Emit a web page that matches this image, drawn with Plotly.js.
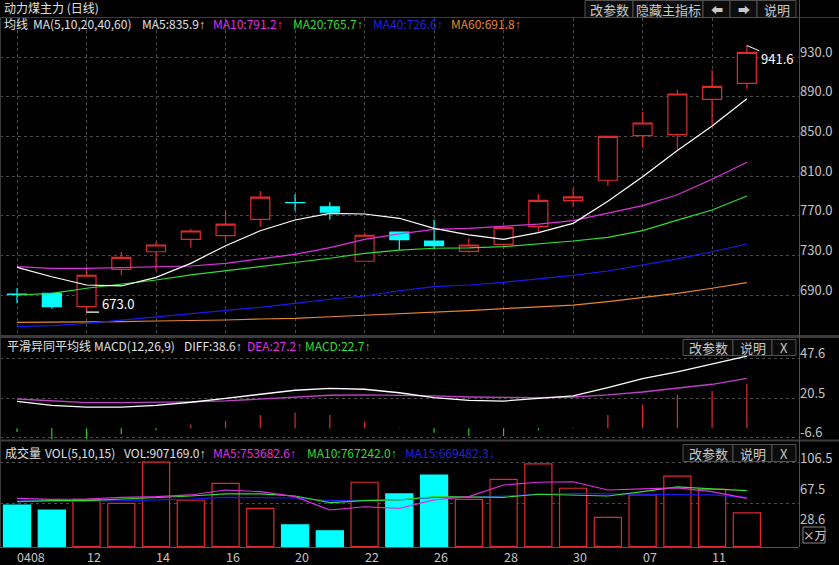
<!DOCTYPE html>
<html><head><meta charset="utf-8">
<script src="https://cdn.plot.ly/plotly-3.0.1.min.js"></script>
<style>html,body{margin:0;padding:0;background:#000;overflow:hidden}#chart{width:839px;height:565px}</style>
</head><body><div id="chart"></div>
<script>
// ---------- data ----------
const dates = ['0408','09','12','13','14','15','16','19','20','21','22','23','26','27','28','29','30','06','07','10','11','12'];
const open  = [691.0,691.9,678.4,716.1,733.8,746.3,750.0,766.5,783.3,778.9,724.2,753.7,744.6,734.2,741.3,759.0,785.2,805.8,850.7,851.7,887.4,903.5];
const high  = [697.0,691.9,718.7,733.5,743.6,756.7,775.5,795.0,791.7,783.6,753.0,753.7,765.8,747.3,760.0,792.0,798.0,850.1,874.6,896.8,916.9,941.6];
const low   = [681.8,676.4,673.0,710.1,714.7,737.9,743.3,759.0,775.1,766.1,724.2,735.5,736.2,732.8,736.5,754.0,779.2,800.3,838.6,837.0,861.5,898.1];
const close = [690.9,678.4,710.1,728.2,740.6,754.7,761.7,788.9,783.2,773.8,750.4,745.9,739.9,740.6,758.4,785.6,789.0,850.1,863.5,892.7,900.5,934.7];
const ma5   = [718.1,708.6,700.3,699.3,708.0,722.1,739.9,755.0,765.8,772.5,771.8,767.5,757.4,750.7,746.3,753.0,762.4,784.6,809.4,835.9,860.5,888.0];
const ma10  = [718.7,717.1,717.1,717.7,718.4,719.4,722.1,726.5,731.2,737.9,746.3,751.7,756.4,757.4,759.7,761.7,765.1,772.5,780.2,791.2,806.8,823.9];
const ma20  = [690.2,691.9,697.0,701.0,705.3,710.4,714.7,718.7,722.7,727.2,732.2,735.5,737.3,737.6,738.9,741.6,744.6,748.3,755.0,765.7,775.8,789.9];
const ma40  = [658.3,659.3,661.7,665.0,668.3,671.1,674.4,677.8,681.8,685.9,689.2,694.5,698.6,700.3,703.0,706.3,710.0,714.4,720.4,726.6,733.8,741.6];
const ma60  = [662.7,662.7,663.0,663.3,664.0,664.3,665.0,666.0,666.7,668.3,669.7,671.1,672.4,674.4,676.4,678.4,680.1,683.5,687.9,691.8,697.0,702.6];
const diff  = [18.4,15.7,14.5,14.5,15.7,17.8,20.5,23.2,26.0,27.3,26.7,24.3,20.9,19.1,18.6,20.5,22.1,27.8,33.9,38.6,44.0,49.4];
const dea   = [20.0,18.7,17.5,17.5,17.5,18.0,18.7,20.0,21.4,22.6,22.8,22.6,22.1,21.4,20.9,20.9,21.4,22.8,24.8,27.2,30.1,34.2];
const macd  = [-2.5,-7.5,-7.5,-4.1,-1.4,2.5,5.0,9.1,10.7,9.1,4.3,0.4,-3.0,-5.3,-5.3,-1.4,0.4,9.1,16.0,22.7,25.5,30.5];
const vol   = [53.5,47.1,60.8,55.7,108.5,59.6,81.4,49.3,27.9,20.5,82.7,67.7,92.0,60.8,86.5,106.2,75.0,37.7,66.4,90.7,73.7,43.3];
const volMa5  = [62.1,60.8,61.2,63.4,64.2,66.4,72.8,70.6,64.2,47.1,51.3,49.3,60.0,64.2,79.2,82.7,83.4,72.8,74.1,75.4,70.6,62.1];
const volMa10 = [57.8,59.1,59.1,60.8,63.4,65.1,67.7,67.7,65.1,56.5,59.1,60.0,64.2,63.4,63.4,67.3,66.4,65.1,70.6,76.7,74.1,71.9];
const volMa15 = [58.7,58.7,58.3,58.7,60.0,61.2,63.4,63.4,62.5,59.1,60.0,60.0,63.4,63.4,65.1,67.3,68.5,67.7,67.7,66.9,66.4,63.4];
const priceTicks = [930,890,850,810,770,730,690];
const macdTicks  = [47.6,20.5,-6.6];
const volTicks   = [106.5,67.5,28.6];
const volGrid    = [107.8,55.7];
const volHeader  = ['VOL:907169.0','MA5:753682.6','MA10:767242.0','MA15:669482.3'];

// ---------- style ----------
const RED='#e0282d', CYAN='#00ffff', GRN='#22cc22', MAG='#e030e0', MGRN='#33dd33', BLU='#1a1aee', ORG='#e8882c';
const GRID='#4a4a4a', AX='#c4c4c4', TXT='#e0e0e0';
const FONT="'Noto Sans CJK SC','Noto Sans',sans-serif";
const PB=547, PR=799;
const py = y => (PB - y) / PB;
const px = x => x / PR;

const idx = dates.map((d,i)=>i);
const up = close.map((c,i)=> c>open[i]);
const evenIdx = idx.filter(i=>i%2===0);

const traces = [
  {type:'candlestick', x:idx, open:open, high:high, low:low, close:close, xaxis:'x', yaxis:'y',
   whiskerwidth:0, hoverinfo:'skip',
   increasing:{line:{color:RED,width:1.2}, fillcolor:'#000000'},
   decreasing:{line:{color:CYAN,width:1.2}, fillcolor:CYAN}},
  {type:'scatter', mode:'lines', x:idx, y:ma60, line:{color:ORG,width:1.2}, xaxis:'x', yaxis:'y'},
  {type:'scatter', mode:'lines', x:idx, y:ma40, line:{color:BLU,width:1.2}, xaxis:'x', yaxis:'y'},
  {type:'scatter', mode:'lines', x:idx, y:ma20, line:{color:MGRN,width:1.2}, xaxis:'x', yaxis:'y'},
  {type:'scatter', mode:'lines', x:idx, y:ma10, line:{color:MAG,width:1.2}, xaxis:'x', yaxis:'y'},
  {type:'scatter', mode:'lines', x:idx, y:ma5, line:{color:'#ffffff',width:1.2}, xaxis:'x', yaxis:'y'},
  {type:'bar', x:idx, y:macd, width:0.035, marker:{color:macd.map(v=>v>=0?RED:GRN), line:{width:0}}, xaxis:'x2', yaxis:'y2'},
  {type:'scatter', mode:'lines', x:idx, y:dea, line:{color:'#c040c8',width:1.3}, xaxis:'x2', yaxis:'y2'},
  {type:'scatter', mode:'lines', x:idx, y:diff, line:{color:'#ffffff',width:1.3}, xaxis:'x2', yaxis:'y2'},
  {type:'bar', x:idx, y:vol, width:0.78,
   marker:{color:up.map(u=>u?'#000000':CYAN), line:{color:up.map(u=>u?RED:CYAN), width:1.2}}, xaxis:'x3', yaxis:'y3'},
  {type:'scatter', mode:'lines', x:idx, y:volMa15, line:{color:BLU,width:1.2}, xaxis:'x3', yaxis:'y3'},
  {type:'scatter', mode:'lines', x:idx, y:volMa10, line:{color:MGRN,width:1.2}, xaxis:'x3', yaxis:'y3'},
  {type:'scatter', mode:'lines', x:idx, y:volMa5, line:{color:MAG,width:1.2}, xaxis:'x3', yaxis:'y3'}
];

// ---------- annotations ----------
const ann = [];
function txt(t, x, y, color, size){
  ann.push({xref:'paper', yref:'paper', x:px(x), y:py(y), xanchor:'left', yanchor:'middle', xshift:-2,
    text:t, showarrow:false, font:{family:FONT, size:size||12, color:color||TXT}});
}
const ARU = '<span style="font-family:Liberation Sans">↑</span>';
const ARD = '<span style="font-family:Liberation Sans">↓</span>';
txt('动力煤主力 (日线)', 4, 8);
txt('均线', 4, 24); txt('MA(5,10,20,40,60)', 33, 24);
txt('MA5:'+ma5[19].toFixed(1)+ARU, 142, 24, TXT);
txt('MA10:'+ma10[19].toFixed(1)+ARU, 213, 24, MAG);
txt('MA20:'+ma20[19].toFixed(1)+ARU, 293, 24, MGRN);
txt('MA40:'+ma40[19].toFixed(1)+ARU, 373, 24, '#2222dd');
txt('MA60:'+ma60[19].toFixed(1)+ARU, 451, 24, ORG);
txt('平滑异同平均线', 7, 345); txt('MACD(12,26,9)', 94, 345);
txt('DIFF:'+diff[19].toFixed(1)+ARU, 184, 345, TXT);
txt('DEA:'+dea[19].toFixed(1)+ARU, 247, 345, MAG);
txt('MACD:'+macd[19].toFixed(1)+ARU, 305, 345, MGRN);
txt('成交量', 5, 452); txt('VOL(5,10,15)', 45, 452);
txt(volHeader[0]+ARU, 124, 452, TXT);
txt(volHeader[1]+ARU, 213, 452, MAG);
txt(volHeader[2]+ARU, 307, 452, MGRN);
txt(volHeader[3]+ARD, 405, 452, '#2222dd');

priceTicks.forEach(v=>ann.push({xref:'paper', x:1, xanchor:'left', xshift:-1, yref:'y', y:v, yanchor:'middle', yshift:6,
  text:v.toFixed(1), showarrow:false, font:{family:FONT,size:13,color:AX}}));
macdTicks.forEach(v=>ann.push({xref:'paper', x:1, xanchor:'left', xshift:-1, yref:'y2', y:v, yanchor:'middle', yshift:6,
  text:v.toFixed(1), showarrow:false, font:{family:FONT,size:13,color:AX}}));
volTicks.forEach(v=>ann.push({xref:'paper', x:1, xanchor:'left', xshift:-1, yref:'y3', y:v, yanchor:'middle', yshift:6,
  text:v.toFixed(1), showarrow:false, font:{family:FONT,size:13,color:AX}}));
// date labels along the bottom
evenIdx.forEach(i=>ann.push({xref:'x3', x:i, xanchor:'left', xshift:-2, yref:'paper', y:py(556), yanchor:'middle',
  text:dates[i], showarrow:false, font:{family:FONT,size:12.5,color:AX}}));

// max / min labels
const maxH = Math.max(...high), maxI = high.indexOf(maxH);
const minL = Math.min(...low), minI = low.indexOf(minL);
ann.push({xref:'x', yref:'y', x:maxI, y:maxH, ax:14, ay:6, text:'', showarrow:true, arrowhead:0, arrowwidth:1, arrowcolor:'#ffffff', standoff:0});
ann.push({xref:'x', yref:'y', x:maxI, y:maxH, xanchor:'left', yanchor:'middle', xshift:12, yshift:-13, text:maxH.toFixed(1), showarrow:false, font:{family:FONT,size:13,color:'#ffffff'}});
ann.push({xref:'x', yref:'y', x:minI, y:minL, ax:14, ay:0, text:'', showarrow:true, arrowhead:0, arrowwidth:1.2, arrowcolor:'#ffffff', standoff:0});
ann.push({xref:'x', yref:'y', x:minI, y:minL, xanchor:'left', yanchor:'middle', xshift:13, yshift:9, text:minL.toFixed(1), showarrow:false, font:{family:FONT,size:13,color:'#ffffff'}});

// ---------- decorations ----------
const shapes = [];
function hline(y, x0, x1, c, w){ shapes.push({type:'line', xref:'paper', yref:'paper', x0:px(x0), x1:px(x1), y0:py(y), y1:py(y), line:{color:c, width:w||1}}); }
function vline(x, y0, y1, c, w){ shapes.push({type:'line', xref:'paper', yref:'paper', x0:px(x), x1:px(x), y0:py(y0), y1:py(y1), line:{color:c, width:w||1}}); }
hline(17.5, 0, 839, '#3a3a3a');
hline(336.5, 0, 839, '#3c3c3c', 3);
hline(440.5, 0, 839, '#3c3c3c', 2);
vline(799.5, 0, 547, '#505050');
vline(0.5, 17, 547, '#3a3a3a');
function button(label, x0, x1, y0, y1, size){
  shapes.push({type:'rect', xref:'paper', yref:'paper', x0:px(x0), x1:px(x1), y0:py(y1), y1:py(y0), fillcolor:'#0c0c0c', line:{color:'#505050', width:1}});
  ann.push({xref:'paper', yref:'paper', x:px((x0+x1)/2), y:py((y0+y1)/2), xanchor:'center', yanchor:'middle', text:label, showarrow:false, font:{family:FONT,size:size||13,color:'#c8c8c8'}});
}
button('改参数',585,633,0.5,17.5); button('隐藏主指标',633,703,0.5,17.5);
button('<b>⬅</b>',703,730,0.5,17.5,12); button('<b>➡</b>',730,757,0.5,17.5,12); button('说明',757,796,0.5,17.5);
button('改参数',683,733,339.5,355.5); button('说明',733,772,339.5,355.5); button('X',772,796,339.5,355.5);
button('改参数',683,733,444.5,461.5); button('说明',733,772,444.5,461.5); button('X',772,796,444.5,461.5);
shapes.push({type:'rect', xref:'paper', yref:'paper', x0:px(803), x1:px(825), y0:py(543), y1:py(527), fillcolor:'#000', line:{color:'#8a8a8a', width:1}});
ann.push({xref:'paper', yref:'paper', x:px(814), y:py(535), xanchor:'center', yanchor:'middle', text:'×万', showarrow:false, font:{family:FONT,size:11.5,color:'#e0e0e0'}});

const gridAxis = {showgrid:true, gridcolor:GRID, griddash:'dot', gridwidth:1, zeroline:false, showticklabels:false, ticks:'', fixedrange:true};
const layout = {
  width:839, height:565, paper_bgcolor:'#000000', plot_bgcolor:'#000000',
  margin:{l:0, r:40, t:0, b:18}, showlegend:false, hovermode:false, boxgap:0.22,
  xaxis: Object.assign({}, gridAxis, {domain:[0,1], range:[-0.49,22.5], anchor:'y', tickvals:evenIdx, rangeslider:{visible:false}}),
  xaxis2:{matches:'x', anchor:'y2', showgrid:false, zeroline:false, showticklabels:false, ticks:'', fixedrange:true},
  xaxis3:{matches:'x', anchor:'y3', showgrid:false, zeroline:false, ticks:'', showticklabels:false,
          showline:true, linecolor:'#555555', linewidth:1, fixedrange:true},
  yaxis: Object.assign({}, gridAxis, {domain:[py(335), py(18)], range:[649.9,969.3], anchor:'x', tickvals:priceTicks}),
  yaxis2:Object.assign({}, gridAxis, {domain:[py(440), py(338)], range:[-8.04,61.76], anchor:'x2', tickvals:macdTicks}),
  yaxis3:Object.assign({}, gridAxis, {domain:[0, py(442)], range:[-0.39,134.4], anchor:'x3', tickvals:volGrid}),
  annotations: ann, shapes: shapes
};
Plotly.newPlot('chart', traces, layout, {staticPlot:true, displayModeBar:false});
</script></body></html>
